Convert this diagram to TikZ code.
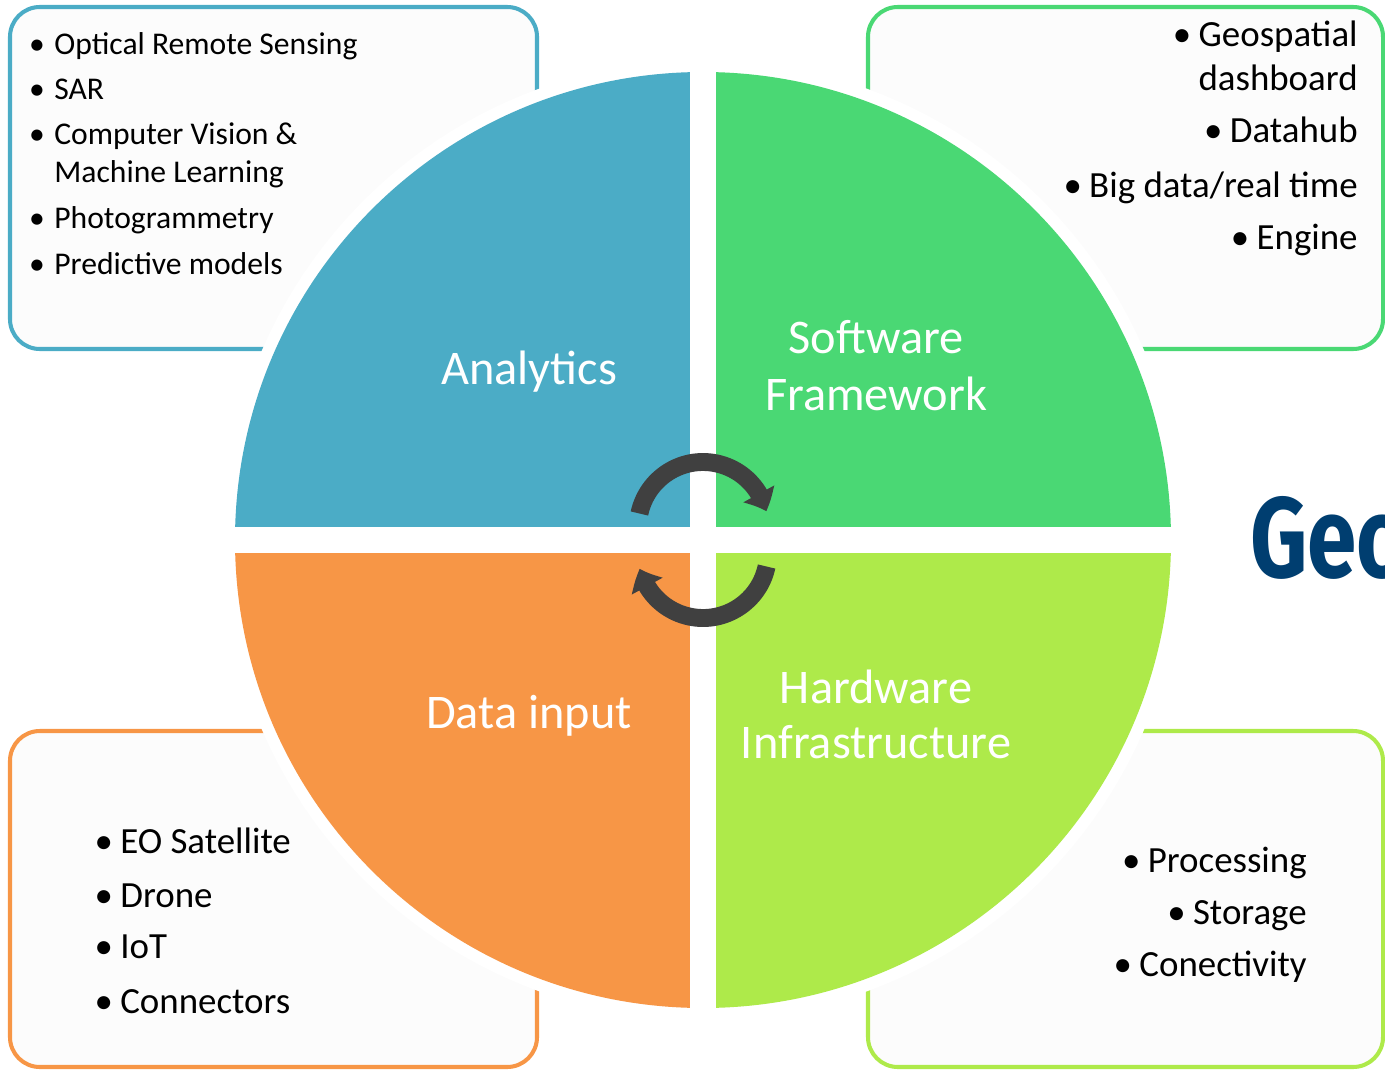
\documentclass[tikz,border=0pt]{standalone}
\usepackage{fontspec}
\setmainfont{Carlito}
\newfontfamily\geofont{Fira Sans}[FakeStretch=0.78]
\usetikzlibrary{arrows.meta,bending}

\definecolor{anablue}{HTML}{4BACC6}
\definecolor{softgreen}{HTML}{4AD874}
\definecolor{dataorange}{HTML}{F79646}
\definecolor{hardlime}{HTML}{AEEA4A}
\definecolor{cyclegray}{HTML}{404040}
\definecolor{geonavy}{HTML}{003E70}
\definecolor{boxfill}{HTML}{FCFCFC}

\newcommand{\bul}[1][0.2em]{\llap{\textbullet\hspace{#1}}}

\tikzset{
  listbox/.style={line width=2.3pt, fill=boxfill, rounded corners=17pt},
  quadlabel/.style={text=white, font=\fontsize{27.5}{32}\selectfont, inner sep=0pt, anchor=base},
  smallitem/.style={font=\fontsize{18}{22}\selectfont, inner sep=0pt, anchor=base west},
  bigitem/.style={font=\fontsize{21}{25}\selectfont, inner sep=0pt},
  cyclearrow/.style={draw=cyclegray, line width=10.2pt,
    -{Triangle[length=10.8pt,width=19.3pt,bend]}},
}

\begin{document}
\begin{tikzpicture}[x=0.02cm,y=-0.02cm]
  \clip (0,0) rectangle (1385,1071);

  % boxes behind the wheel
  \draw[listbox, draw=anablue] (10,7) rectangle (537,349);
  \draw[listbox, draw=softgreen] (868,7) rectangle (1383,349);
  \draw[listbox, draw=dataorange] (10,731) rectangle (537,1067);
  \draw[listbox, draw=hardlime] (868,731) rectangle (1383,1067);

  % the wheel
  \coordinate (hub) at (703,540);
  \fill[white] (hub) circle[radius=480];
  \fill[anablue] (hub) -- ++(180:468) arc[start angle=180, end angle=270, radius=468] -- cycle;
  \fill[softgreen] (hub) -- ++(270:468) arc[start angle=270, end angle=360, radius=468] -- cycle;
  \fill[hardlime] (hub) -- ++(0:468) arc[start angle=0, end angle=90, radius=468] -- cycle;
  \fill[dataorange] (hub) -- ++(90:468) arc[start angle=90, end angle=180, radius=468] -- cycle;
  \draw[white, line width=14.8pt] (703,60) -- (703,1020);
  \draw[white, line width=14.8pt] (222,540) -- (1184,540);

  % cycle arrows
  \coordinate (upc) at (703,527);
  \coordinate (downc) at (703,553);
  \draw[cyclearrow] (upc) ++(-168:65) arc[start angle=-168, end angle=-14, radius=65];
  \draw[cyclearrow] (downc) ++(12:65) arc[start angle=12, end angle=166, radius=65];

  % quadrant labels
  \node[quadlabel] (analytics) at (529,384) {Analytics};
  \node[quadlabel] (software) at (876,353) {Software};
  \node[quadlabel] (framework) at (876,410) {Framework};
  \node[quadlabel] (datainput) at (529,728) {Data input};
  \node[quadlabel] (hardware) at (876,703) {Hardware};
  \node[quadlabel] (infra) at (876,758) {Infrastructure};

  % lists
  \foreach \y/\txt [count=\i] in {55/{\bul[0.3em]Optical Remote Sensing},
      100/{\bul[0.3em]SAR}, 145/{\bul[0.3em]Computer Vision \&},
      183/{Machine Learning}, 229/{\bul[0.3em]Photogrammetry},
      274/{\bul[0.3em]Predictive models}}
    \node[smallitem] (ana\i) at (54,\y) {\txt};

  \foreach \y/\txt [count=\i] in {47/{\bul Geospatial}, 91/{dashboard},
      143/{\bul Datahub}, 197/{\bul Big data/real time}, 249/{\bul Engine}}
    \node[bigitem, anchor=base east] (soft\i) at (1358,\y) {\txt};

  \foreach \y/\txt [count=\i] in {853/{EO Satellite}, 907/{Drone},
      958/{IoT}, 1013/{Connectors}}
    \node[bigitem, anchor=base west] (data\i) at (120,\y) {\bul\txt};

  \foreach \y/\txt [count=\i] in {872/{Processing}, 924/{Storage},
      976/{Conectivity}}
    \node[bigitem, anchor=base east] (hard\i) at (1307,\y) {\bul\txt};

  % title, cut by the page edge
  \node[anchor=base west, inner sep=0pt, text=geonavy,
    font=\geofont\bfseries\fontsize{65}{70}\selectfont] (geo) at (1250,577) {Geo};
\end{tikzpicture}
\end{document}
